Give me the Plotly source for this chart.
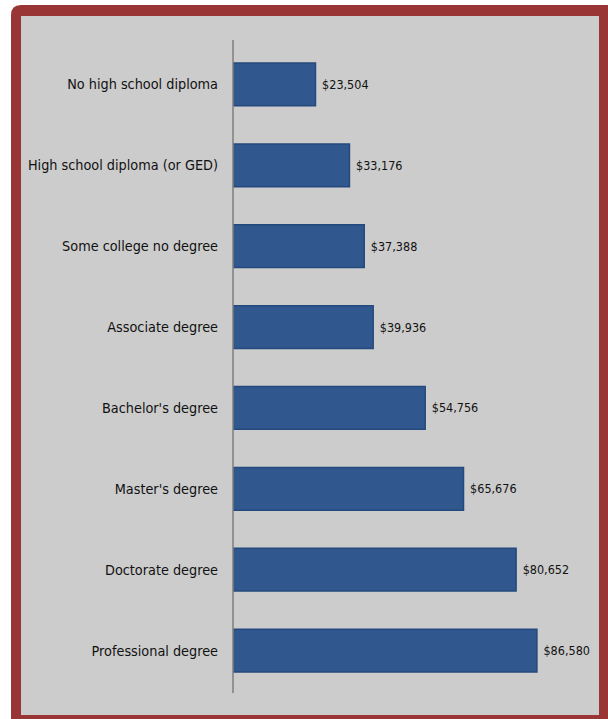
import plotly.graph_objects as go

categories = ["No high school diploma", "High school diploma (or GED)", "Some college no degree",
              "Associate degree", "Bachelor's degree", "Master's degree",
              "Doctorate degree", "Professional degree"]
values = [23504, 33176, 37388, 39936, 54756, 65676, 80652, 86580]
labels = ["$23,504", "$33,176", "$37,388", "$39,936", "$54,756", "$65,676", "$80,652", "$86,580"]

W, H = 608, 719
L, R, T, B = 233, 0, 44, 28
pw, ph = W - L - R, H - T - B

def px(x):
    return (x - L) / pw

def py(y):
    return (H - B - y) / ph

FONT = "DejaVu Sans Condensed, Liberation Sans Narrow, sans-serif"

fig = go.Figure(go.Bar(
    y=categories, x=values, orientation="h",
    marker=dict(color="#30588f", line=dict(color="#24497c", width=1.5)),
    text=[" " + s for s in labels], textposition="outside",
    textfont=dict(family=FONT, size=12.5, color="#111111"),
    cliponaxis=False, width=0.53,
))

def rounded(x0, y0, x1, y1, rr):
    return (f"M {px(x0)},{py(y0 + rr)} Q {px(x0)},{py(y0)} {px(x0 + rr)},{py(y0)} "
            f"L {px(x1)},{py(y0)} L {px(x1)},{py(y1)} L {px(x0)},{py(y1)} Z")

shapes = [
    dict(type="path", xref="paper", yref="paper", path=rounded(11, 5, 608, 719, 10),
         fillcolor="#993535", line=dict(width=0), layer="below"),
    dict(type="rect", xref="paper", yref="paper", x0=px(21), x1=px(599), y0=py(16), y1=py(715),
         fillcolor="#cccccc", line=dict(width=0), layer="below"),
    dict(type="line", xref="paper", yref="paper", x0=0, x1=0, y0=py(40), y1=py(693),
         line=dict(color="#7f7f7f", width=1.5), layer="above"),
]

fig.update_layout(
    width=W, height=H, margin=dict(l=L, r=R, t=T, b=B, autoexpand=False),
    paper_bgcolor="white", plot_bgcolor="rgba(0,0,0,0)",
    showlegend=False, shapes=shapes,
    font=dict(family=FONT, size=14, color="#111111"),
    xaxis=dict(range=[0, pw / 3.51 * 1000], visible=False, showgrid=False, zeroline=False,
               automargin=False),
    yaxis=dict(autorange="reversed", showline=False,
               ticks="", showgrid=False, ticklabelstandoff=14, automargin=False,
               tickfont=dict(family=FONT, size=14.3, color="#111111")),
)

fig.write_html("out.html")
